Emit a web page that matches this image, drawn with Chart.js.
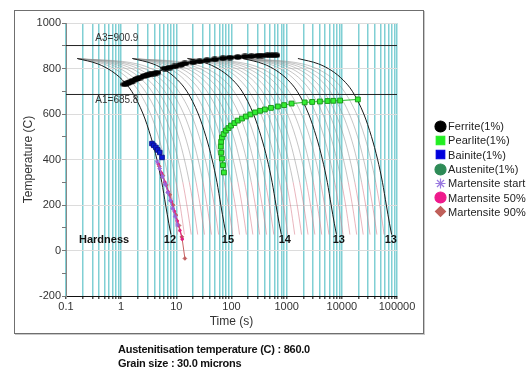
<!DOCTYPE html>
<html>
<head>
<meta charset="utf-8">
<script src="https://cdn.jsdelivr.net/npm/chart.js@4.4.1/dist/chart.umd.min.js"></script>
<style>
	html, body { margin: 0; padding: 0; background: #fff; }
	#wrap { position: relative; width: 527px; height: 374px; overflow: hidden; font-family: "Liberation Sans", Arial, sans-serif; }
	#frame { position: absolute; left: 14px; top: 10px; width: 410px; height: 324px; box-sizing: border-box; border: 1px solid #6f6f6f; box-shadow: 1px 1px 0 #c8c8c8; }
	#chart { position: absolute; left: 0; top: 0; }
	#legend { position: absolute; left: 434px; top: 119px; }
	.item { height: 14.3px; display: flex; align-items: center; font-size: 11px; letter-spacing: 0.1px; color: #222; white-space: nowrap; }
	.item canvas { margin-right: 1px; }
	#notes { position: absolute; left: 118px; top: 343px; font-family: "Liberation Sans Narrow", "Arial Narrow", Arial, sans-serif; font-weight: bold; font-size: 11px; letter-spacing: -0.25px; line-height: 13.5px; color: #111; }
</style>
</head>
<body>
<div id="wrap">
	<div id="frame"></div>
	<canvas id="chart" width="527" height="374"></canvas>
	<div id="legend"></div>
	<div id="notes">
		<div>Austenitisation temperature (C) : 860.0</div>
		<div>Grain size : 30.0 microns</div>
	</div>
</div>
<script>
// temperatures shared by every cooling curve (C)
const curveTemps = [844, 820, 790, 750, 700, 600, 500, 400, 300, 200, 120, 70];

// main cooling curves (black), time in s at each of curveTemps
const mainCurves = [
	[0.16, 0.38, 0.66, 1.05, 1.55, 2.5, 3.45, 4.45, 5.45, 6.4, 7.3, 8.0],
	[1.6, 3.8, 6.6, 10.5, 15.5, 25, 34.5, 44.5, 54.5, 64, 73, 80],
	[16, 38, 66, 105, 155, 250, 345, 445, 545, 640, 730, 800],
	[160, 380, 660, 1050, 1550, 2500, 3450, 4450, 5450, 6400, 7300, 8000],
	[1600, 3800, 6600, 10500, 15500, 25000, 34500, 44500, 54500, 64000, 73000, 80000],
];

// thin curves fanning out between the main ones
const fanGap1 = [
	[0.16, 0.48, 0.88, 1.41, 2.08, 3.41, 4.75, 6.08, 7.41, 8.75, 9.81, 10.5],
	[0.16, 0.59, 1.12, 1.84, 2.73, 4.52, 6.3, 8.09, 9.87, 11.7, 13.1, 14.0],
	[0.16, 0.73, 1.45, 2.4, 3.59, 5.97, 8.35, 10.7, 13.1, 15.5, 17.4, 18.6],
	[0.16, 0.91, 1.85, 3.1, 4.66, 7.79, 10.9, 14.0, 17.2, 20.3, 22.8, 24.4],
	[0.16, 1.16, 2.41, 4.08, 6.16, 10.3, 14.5, 18.7, 22.8, 27.0, 30.3, 32.4],
	[0.16, 1.49, 3.16, 5.38, 8.16, 13.7, 19.3, 24.8, 30.4, 35.9, 40.4, 43.2],
	[0.16, 1.96, 4.22, 7.23, 11.0, 18.5, 26.0, 33.5, 41.1, 48.6, 54.6, 58.4],
];
const fanGap2 = [
	[1.6, 4.8, 8.8, 14.1, 20.8, 34.1, 47.5, 60.8, 74.1, 87.5, 98.1, 105],
	[1.6, 5.9, 11.2, 18.4, 27.3, 45.2, 63, 80.9, 98.7, 117, 131, 140],
	[1.6, 7.3, 14.5, 24, 35.9, 59.7, 83.5, 107, 131, 155, 174, 186],
	[1.6, 9.1, 18.5, 31, 46.6, 77.9, 109, 140, 172, 203, 228, 244],
	[1.6, 11.6, 24.1, 40.8, 61.6, 103, 145, 187, 228, 270, 303, 324],
	[1.6, 14.9, 31.6, 53.8, 81.6, 137, 193, 248, 304, 359, 404, 432],
	[1.6, 19.6, 42.2, 72.3, 110, 185, 260, 335, 411, 486, 546, 584],
];
const fanGap3 = [
	[16, 48, 88, 141, 208, 341, 475, 608, 741, 875, 981, 1050],
	[16, 59, 112, 184, 273, 452, 630, 809, 987, 1170, 1310, 1400],
	[16, 73, 145, 240, 359, 597, 835, 1070, 1310, 1550, 1740, 1860],
	[16, 91, 185, 310, 466, 779, 1090, 1400, 1720, 2030, 2280, 2440],
	[16, 116, 241, 408, 616, 1030, 1450, 1870, 2280, 2700, 3030, 3240],
	[16, 149, 316, 538, 816, 1370, 1930, 2480, 3040, 3590, 4040, 4320],
	[16, 196, 422, 723, 1100, 1850, 2600, 3350, 4110, 4860, 5460, 5840],
];
const fanGap4 = [
	[160, 480, 880, 1410, 2080, 3410, 4750, 6080, 7410, 8750, 9810, 10500],
	[160, 590, 1120, 1840, 2730, 4520, 6300, 8090, 9870, 11700, 13100, 14000],
	[160, 730, 1450, 2400, 3590, 5970, 8350, 10700, 13100, 15500, 17400, 18600],
	[160, 910, 1850, 3100, 4660, 7790, 10900, 14000, 17200, 20300, 22800, 24400],
	[160, 1160, 2410, 4080, 6160, 10300, 14500, 18700, 22800, 27000, 30300, 32400],
	[160, 1490, 3160, 5380, 8160, 13700, 19300, 24800, 30400, 35900, 40400, 43200],
	[160, 1960, 4220, 7230, 11000, 18500, 26000, 33500, 41100, 48600, 54600, 58400],
];

// transformation start points [time s, temperature C]
const ferrite = [
	[1.17, 730], [1.3, 735], [1.45, 740], [1.64, 747], [1.9, 754], [2.19, 760], [2.6, 767],
	[3.0, 771], [3.33, 774], [3.9, 778], [4.45, 782], [6.2, 800], [7.5, 804], [9.4, 809],
	[12, 816], [14.3, 822], [20, 827], [26.5, 831], [36, 836], [49.8, 840], [70, 845],
	[93.5, 848], [130, 850], [176, 853], [230, 854], [300, 856], [355, 857], [450, 858],
	[540, 858], [640, 858],
];
const pearlite = [
	[72.8, 343], [70, 375], [67, 404], [65, 430], [64, 457], [65, 478], [67, 497], [72, 512],
	[79, 527], [88, 538], [98, 549], [113, 560], [130, 571], [155, 580], [182, 589], [220, 598],
	[267, 607], [330, 614], [403, 620], [520, 627], [693, 633], [900, 639], [1230, 646],
	[2120, 651], [2900, 653], [4000, 655], [5500, 657], [7000, 658], [9300, 659], [19500, 664],
];
const bainite = [[3.62, 470], [3.9, 462], [4.27, 453], [4.6, 442], [5.0, 431], [5.5, 409]];
const austenite = [];
const martStart = [[4.5, 390], [5.0, 360], [5.6, 325], [6.3, 290], [7.0, 255], [7.8, 220], [8.6, 185], [9.5, 150], [10.5, 112]];
const mart50 = [[4.7, 380], [5.4, 340], [6.2, 300], [7.1, 258], [8.1, 215], [9.2, 172], [10.4, 130], [11.6, 88], [12.8, 50]];
const mart90 = [[4.9, 370], [5.7, 330], [6.6, 288], [7.6, 245], [8.7, 200], [9.9, 155], [11.2, 110], [12.6, 60], [14.3, -35]];

// critical temperatures
const A3 = 900.9;
const A1 = 685.8;

// hardness read at the end of each main curve
const hardness = [12, 15, 14, 13, 13];
const hardnessTimes = [7.65, 86, 927, 8830, 77300];
const hardnessTemp = 48;

// axis ticks
const majorTimes = [0.1, 1, 10, 100, 1000, 10000, 100000];
const tempTicks = [-200, -100, 0, 100, 200, 300, 400, 500, 600, 700, 800, 900, 1000];

const gridTimes = [];
majorTimes.forEach((d) => {
	for (let k = 1; k < 10; k++) {
		const v = Number((d * k).toPrecision(3));
		if (v <= 100000) gridTimes.push(v);
	}
});

const toPoints = (pairs) => pairs.map(([x, y]) => ({ x, y }));
const curvePoints = (times) => times.map((t, i) => ({ x: t, y: curveTemps[i] }));

const FAN_GREY = 'rgba(140, 140, 140, 0.5)';
const FAN_PINK = 'rgba(215, 120, 135, 0.55)';

// flattened black blob used for the ferrite markers
const ferriteDot = document.createElement('canvas');
ferriteDot.width = 9;
ferriteDot.height = 6;
(function () {
	const g = ferriteDot.getContext('2d');
	g.fillStyle = '#000';
	g.beginPath();
	g.ellipse(4.5, 3, 4.3, 2.8, 0, 0, Math.PI * 2);
	g.fill();
})();

const datasets = [
	{ label: 'Ferrite(1%)', data: toPoints(ferrite), showLine: true, borderColor: '#000', borderWidth: 1,
		backgroundColor: '#000', pointStyle: ferriteDot, pointRadius: 3, order: 0 },
	{ label: 'Pearlite(1%)', data: toPoints(pearlite), showLine: true, borderColor: '#22b822', borderWidth: 1,
		backgroundColor: '#33ee33', pointBorderColor: '#1d9a1d', pointBorderWidth: 1, pointStyle: 'rect', pointRadius: 3.4, order: 0 },
	{ label: 'Bainite(1%)', data: toPoints(bainite), showLine: true, borderColor: '#1a2ad0', borderWidth: 1,
		backgroundColor: '#0a1ad8', pointBorderColor: '#0a1490', pointStyle: 'rect', pointRadius: 3.2, order: 0 },
	{ label: 'Austenite(1%)', data: toPoints(austenite), showLine: true, borderColor: '#2e8b57',
		backgroundColor: '#2e8b57', pointStyle: 'circle', pointRadius: 3, order: 0 },
	{ label: 'Martensite start', data: toPoints(martStart), showLine: true, borderColor: '#9966dd', borderWidth: 1,
		backgroundColor: '#9966dd', pointBorderColor: '#9966dd', pointStyle: 'star', pointRadius: 2.2, order: 0 },
	{ label: 'Martensite 50%', data: toPoints(mart50), showLine: true, borderColor: '#e0207f', borderWidth: 1,
		backgroundColor: '#e0207f', pointBorderColor: '#e0207f', pointStyle: 'circle', pointRadius: 1.3, order: 0 },
	{ label: 'Martensite 90%', data: toPoints(mart90), showLine: true, borderColor: '#c86262', borderWidth: 1,
		backgroundColor: '#c06060', pointBorderColor: '#c06060', pointStyle: 'rectRot', pointRadius: 1.8, order: 0 },
];

[[0.1, A3], [0.1, A1]].forEach(([x0, T]) => {
	datasets.push({ label: '', data: [{ x: x0, y: T }, { x: 100000, y: T }], showLine: true,
		borderColor: '#222', borderWidth: 1, pointRadius: 0, order: 1 });
});

mainCurves.forEach((times) => {
	datasets.push({ label: '', data: curvePoints(times), showLine: true, borderColor: '#1a1a1a',
		borderWidth: 1, pointRadius: 0, cubicInterpolationMode: 'monotone', order: 1 });
});

[fanGap1, fanGap2, fanGap3, fanGap4].forEach((gap) => {
	gap.forEach((times) => {
		datasets.push({ label: '', data: curvePoints(times), showLine: true, borderColor: FAN_GREY,
			borderWidth: 1, pointRadius: 0, cubicInterpolationMode: 'monotone', order: 2,
			segment: { borderColor: (ctx) => (ctx.p1.parsed.y < 300 ? FAN_PINK : FAN_GREY) } });
	});
});

const labelsPlugin = {
	id: 'labelsPlugin',
	afterDatasetsDraw(chart) {
		const { ctx, scales: { x, y } } = chart;
		ctx.save();
		ctx.fillStyle = '#333';
		ctx.font = '10px "Liberation Sans", Arial, sans-serif';
		ctx.textAlign = 'left';
		ctx.textBaseline = 'bottom';
		ctx.fillText('A3=' + A3.toFixed(1), x.getPixelForValue(0.34), y.getPixelForValue(A3) - 2);
		ctx.textBaseline = 'top';
		ctx.fillText('A1=' + A1.toFixed(1), x.getPixelForValue(0.34), y.getPixelForValue(A1) + 1);

		ctx.fillStyle = '#111';
		ctx.font = 'bold 11px "Liberation Sans", Arial, sans-serif';
		ctx.textAlign = 'center';
		ctx.textBaseline = 'middle';
		const ty = y.getPixelForValue(hardnessTemp);
		ctx.fillText('Hardness', x.getPixelForValue(0.49), ty);
		hardness.forEach((h, i) => ctx.fillText(String(h), x.getPixelForValue(hardnessTimes[i]), ty));
		ctx.restore();
	},
};

const chart = new Chart(document.getElementById('chart').getContext('2d'), {
	type: 'scatter',
	data: { datasets },
	options: {
		responsive: false,
		animation: false,
		devicePixelRatio: 1,
		layout: { padding: { left: 15, top: 23, right: 130, bottom: 40 } },
		plugins: { legend: { display: false }, tooltip: { enabled: false } },
		elements: { line: { tension: 0 } },
		scales: {
			x: {
				type: 'logarithmic',
				min: 0.1,
				max: 100000,
				afterBuildTicks: (s) => { s.ticks = gridTimes.map((v) => ({ value: v })); },
				afterFit: (s) => { s.height = 38; },
				ticks: {
					autoSkip: false,
					maxRotation: 0,
					padding: 1,
					color: '#333',
					font: { size: 11 },
					callback: (v) => (majorTimes.includes(v) ? String(v) : ''),
				},
				grid: { color: '#80cfd4', lineWidth: 1.5, tickLength: 3, tickColor: '#555' },
				border: { color: '#111', width: 1 },
				title: { display: true, text: 'Time (s)', color: '#333', font: { size: 12 }, padding: { top: 0, bottom: 5 } },
			},
			y: {
				min: -200,
				max: 1000,
				afterBuildTicks: (s) => { s.ticks = tempTicks.map((v) => ({ value: v })); },
				afterFit: (s) => { s.width = 51; },
				ticks: {
					autoSkip: false,
					padding: 1,
					color: '#333',
					font: { size: 11 },
					callback: (v) => (v % 200 === 0 ? String(v) : ''),
				},
				grid: {
					color: (c) => (c.tick && c.tick.value % 200 === 0 ? '#dcdcdc' : 'rgba(0,0,0,0)'),
					tickLength: 4,
					tickColor: '#777',
				},
				border: { color: '#888', width: 1 },
				title: { display: true, text: 'Temperature (C)', color: '#333', font: { size: 12 }, padding: { top: 6, bottom: 0 } },
			},
		},
	},
	plugins: [labelsPlugin],
});

// legend on the right, icons drawn with Chart.js point helper
const legendIcons = [
	{ style: 'circle', color: '#000', radius: 5.5 },
	{ style: 'rect', color: '#22ee22', radius: 6 },
	{ style: 'rect', color: '#0000dd', radius: 6 },
	{ style: 'circle', color: '#2e8b57', radius: 5.5 },
	{ style: 'star', color: '#9a7ae0', radius: 5 },
	{ style: 'circle', color: '#ee1a8c', radius: 5.5 },
	{ style: 'rectRot', color: '#c0605a', radius: 5 },
];

const legendBox = document.getElementById('legend');
legendIcons.forEach((icon, i) => {
	const row = document.createElement('div');
	row.className = 'item';
	const c = document.createElement('canvas');
	c.width = 13;
	c.height = 13;
	const g = c.getContext('2d');
	g.fillStyle = icon.color;
	g.strokeStyle = icon.color;
	g.lineWidth = 1.2;
	Chart.helpers.drawPoint(g, { pointStyle: icon.style, radius: icon.radius, rotation: 0, borderWidth: 1.2 }, 6.5, 6.5);
	row.appendChild(c);
	const span = document.createElement('span');
	span.textContent = datasets[i].label;
	row.appendChild(span);
	legendBox.appendChild(row);
});
</script>
</body>
</html>
